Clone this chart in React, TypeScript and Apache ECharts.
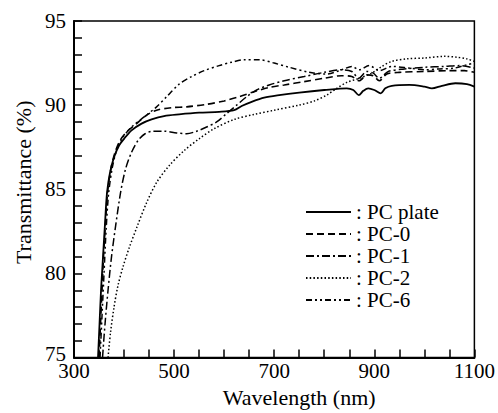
import React, { useEffect, useRef } from "react";
import * as echarts from "echarts";

const seriesNames = ["PC plate", "PC-0", "PC-1", "PC-2", "PC-6"];

const pcPlate: [number, number][] = [
  [348, 75], [351, 77], [354, 79], [358, 81], [362, 83], [366, 84.8], [372, 86], [380, 86.9],
  [390, 87.6], [400, 88.0], [415, 88.5], [435, 88.9], [455, 89.15], [480, 89.35], [510, 89.45],
  [550, 89.55], [590, 89.6], [620, 89.7], [635, 89.95], [655, 90.2], [680, 90.45], [710, 90.6],
  [750, 90.75], [800, 90.9], [845, 91.0], [858, 90.9], [869, 90.6], [878, 90.85], [888, 91.0],
  [900, 90.9], [913, 90.7], [922, 91.0], [935, 91.15], [970, 91.2], [1000, 91.1], [1015, 91.0],
  [1035, 91.15], [1062, 91.3], [1085, 91.25], [1100, 91.1],
];

const pc0: [number, number][] = [
  [350, 75], [353, 77], [356, 79], [359, 81], [363, 83], [367, 84.8], [373, 86.1], [381, 87.1],
  [392, 87.9], [405, 88.4], [425, 88.9], [445, 89.4], [465, 89.7], [495, 89.85], [525, 89.9],
  [565, 90.05], [600, 90.25], [630, 90.5], [660, 90.8], [690, 91.05], [720, 91.2], [760, 91.4],
  [800, 91.6], [835, 91.75], [855, 91.7], [870, 91.45], [885, 91.8], [898, 91.75], [910, 91.45],
  [925, 91.85], [950, 91.95], [1000, 92.0], [1050, 92.05], [1080, 92.05], [1100, 91.95],
];

const pc1: [number, number][] = [
  [357, 75], [362, 77], [368, 79], [375, 81], [384, 83], [393, 84.8], [403, 86.2], [415, 87.2],
  [428, 87.9], [442, 88.3], [458, 88.45], [480, 88.45], [505, 88.35], [525, 88.3], [545, 88.45],
  [565, 88.7], [585, 89.0], [605, 89.5], [625, 90.0], [645, 90.5], [665, 90.9], [690, 91.2],
  [720, 91.45], [760, 91.7], [800, 91.95], [835, 92.1], [855, 92.0], [869, 91.6], [885, 92.0],
  [898, 91.9], [910, 91.6], [928, 92.0], [960, 92.15], [1000, 92.25], [1040, 92.3], [1070, 92.35],
  [1100, 92.2],
];

const pc2: [number, number][] = [
  [368, 75], [373, 76.5], [380, 78], [388, 79.3], [398, 80.4], [410, 81.5], [425, 82.7],
  [445, 84.2], [465, 85.4], [490, 86.4], [520, 87.3], [550, 88.0], [580, 88.6], [620, 89.15],
  [660, 89.45], [700, 89.7], [750, 90.0], [780, 90.25], [805, 90.6], [825, 91.0], [845, 91.35],
  [870, 91.6], [895, 91.9], [915, 92.3], [935, 92.6], [965, 92.75], [1000, 92.8], [1040, 92.9],
  [1065, 92.85], [1085, 92.75], [1100, 92.6],
];

const pc6: [number, number][] = [
  [352, 75], [356, 77.5], [360, 80], [364, 82.5], [369, 84.7], [376, 86.2], [385, 87.3],
  [398, 88.1], [415, 88.7], [440, 89.3], [465, 89.9], [485, 90.5], [510, 91.25], [535, 91.7],
  [560, 92.05], [590, 92.35], [615, 92.55], [640, 92.7], [670, 92.7], [700, 92.5], [730, 92.25],
  [770, 91.95], [805, 91.85], [835, 92.1], [855, 92.3], [870, 92.1], [890, 92.35], [910, 92.05],
  [935, 92.3], [970, 92.2], [1000, 92.1], [1030, 92.15], [1060, 92.2], [1085, 92.4], [1100, 92.5],
];

const seriesData = [pcPlate, pc0, pc1, pc2, pc6];
const dashTypes: any[] = ["solid", [7, 4], [8, 3, 2, 3], [1.5, 2.2], [6, 3, 2, 3, 2, 3]];
const widths = [1.8, 1.6, 1.5, 1.5, 1.5];

const xTicks = { min: 300, max: 1100, interval: 200 };
const yTicks = { min: 75, max: 95, interval: 5 };

const FONT = "Liberation Serif";

export default function App() {
  const ref = useRef<HTMLDivElement>(null);
  useEffect(() => {
    document.body.style.margin = "0";
    const chart = echarts.init(ref.current!, null, { renderer: "svg" });
    chart.setOption({
      animation: false,
      backgroundColor: "#fff",
      grid: {
        left: 74, right: 22, top: 21, bottom: 54,
        show: true, borderColor: "#000", borderWidth: 1.5,
      },
      legend: {
        orient: "vertical",
        left: 305,
        top: 201,
        itemWidth: 45,
        itemHeight: 14,
        itemGap: 0,
        padding: 0,
        itemStyle: { opacity: 0 },
        formatter: (n: string) => ": " + n,
        textStyle: { fontFamily: FONT, fontSize: 21, color: "#000", lineHeight: 22 },
        data: seriesNames,
      },
      xAxis: {
        type: "value",
        ...xTicks,
        name: "Wavelength (nm)",
        nameLocation: "middle",
        nameGap: 27,
        nameTextStyle: { fontFamily: FONT, fontSize: 22, color: "#000", padding: [0, 0, 0, 50] },
        axisLine: { lineStyle: { color: "#000", width: 2 } },
        axisTick: { inside: true, length: 8, lineStyle: { color: "#000", width: 1.5 } },
        minorTick: { show: true, splitNumber: 4, length: 8, lineStyle: { color: "#000", width: 1.5 } },
        axisLabel: { fontFamily: FONT, fontSize: 21, color: "#000", margin: 6, lineHeight: 14, formatter: (v: number) => String(v) },
        splitLine: { show: false },
      },
      yAxis: {
        type: "value",
        ...yTicks,
        name: "Transmittance (%)",
        nameLocation: "middle",
        nameGap: 38,
        nameTextStyle: { fontFamily: FONT, fontSize: 22, color: "#000", padding: [0, 0, 0, 14] },
        axisLine: { show: true, lineStyle: { color: "#000", width: 2 } },
        axisTick: { inside: true, length: 8, lineStyle: { color: "#000", width: 1.5 } },
        minorTick: { show: true, splitNumber: 5, length: 8, lineStyle: { color: "#000", width: 1.5 } },
        axisLabel: {
          fontFamily: FONT, fontSize: 21, color: "#000", margin: 8, lineHeight: 12,
          formatter: (v: number) => (v === yTicks.min ? "{low|" + v + "}" : String(v)),
          rich: { low: { fontFamily: FONT, fontSize: 21, color: "#000", lineHeight: 12, padding: [0, 0, 8, 0] } },
        },
        splitLine: { show: false },
      },
      series: seriesNames.map((name, i) => ({
        name,
        type: "line",
        data: seriesData[i],
        showSymbol: false,
        symbol: "none",
        smooth: 0.3,
        itemStyle: { color: "#000" },
        lineStyle: { color: "#000", width: widths[i], type: dashTypes[i] },
      })),
    });
    return () => chart.dispose();
  }, []);
  return <div ref={ref} style={{ width: 498, height: 413 }} />;
}
